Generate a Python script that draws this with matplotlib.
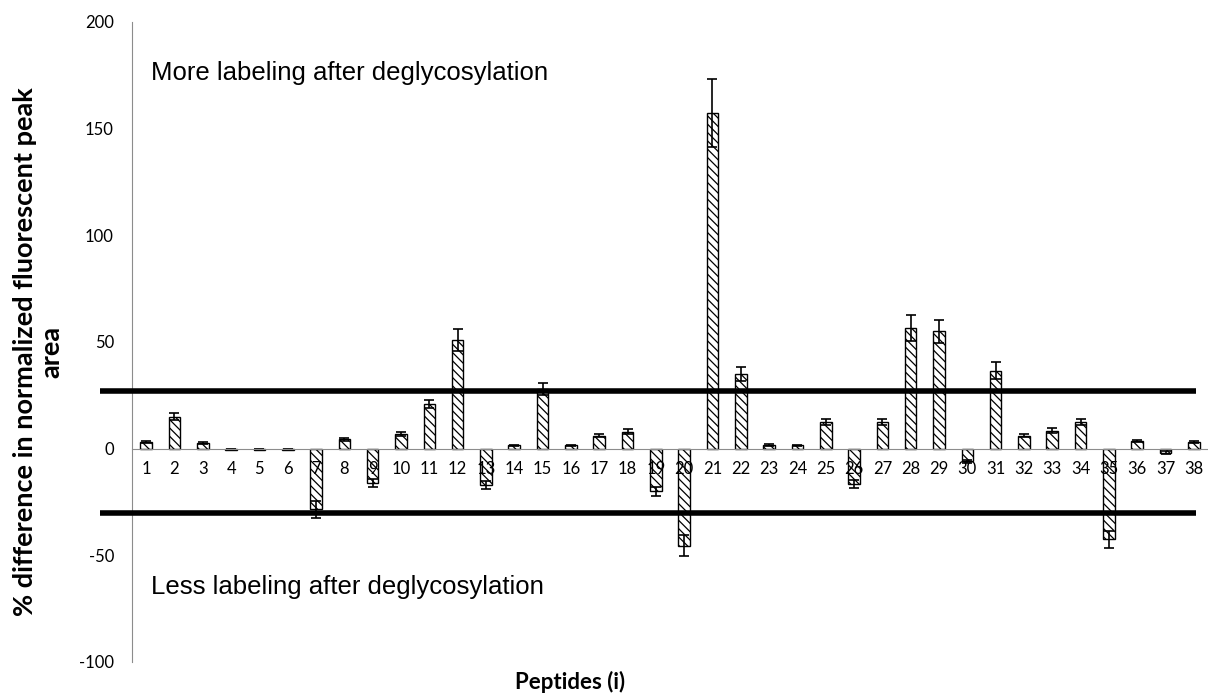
import matplotlib
matplotlib.use("Agg")
import matplotlib.pyplot as plt
import numpy as np

plt.rcParams['hatch.linewidth'] = 0.9
plt.rcParams['axes.unicode_minus'] = False

peptides = [str(i) for i in range(1, 39)]
diff = [3, 15, 2.5, -0.5, -0.5, -0.5, -28.5, 4.5, -16, 7,
        21, 51, -17, 1.5, 28, 1.5, 6, 8, -20, -45.5,
        157.5, 35, 1.7, 1.5, 12.5, -16.5, 12.5, 56.5, 55, -6,
        36.5, 6, 8.5, 12.5, -42.5, 3.5, -2, 3]
err = [0.5, 1.5, 0.5, 0.3, 0.3, 0.3, 4, 0.7, 2, 1,
       2, 5, 2, 0.4, 3, 0.4, 0.7, 1, 2, 5,
       16, 3.5, 0.4, 0.4, 1.5, 2, 1.5, 6, 5.5, 0.8,
       4, 0.7, 1, 1.5, 4, 0.5, 0.7, 0.5]
upper_cut = 27
lower_cut = -30

fig = plt.figure(figsize=(12.08, 6.96), dpi=100)
ax = fig.add_axes([132 / 1208, 1 - 662 / 696, 1 - 132 / 1208, (662 - 22) / 696])

x = np.arange(1, len(diff) + 1)
ax.bar(x, diff, width=0.41, color='white', edgecolor='black', linewidth=1.0,
       hatch='\\\\\\\\', zorder=1)
ax.errorbar(x, diff, yerr=err, fmt='none', ecolor='black', elinewidth=1.2,
            capsize=3.6, capthick=1.2, zorder=1.2)

# threshold lines
for yv in (upper_cut, lower_cut):
    ax.plot([-0.63, 38.06], [yv, yv], color='black', linewidth=4,
            solid_capstyle='butt', clip_on=False, zorder=4)

ax.set_xlim(0.5, 38.5)
ax.set_ylim(-100, 200)
ax.set_yticks([-100, -50, 0, 50, 100, 150, 200])
ax.set_xticks(x)
ax.set_xticklabels(peptides)
ax.set_axisbelow(False)

for s in ('top', 'right'):
    ax.spines[s].set_visible(False)
ax.spines['bottom'].set_position(('data', 0))
ax.spines['bottom'].set_color('#8c8c8c')
ax.spines['left'].set_color('#8c8c8c')
ax.tick_params(axis='x', length=0, pad=9, labelsize=12)
ax.tick_params(axis='y', length=0, pad=13, labelsize=12)
for lab in ax.get_xticklabels() + ax.get_yticklabels():
    lab.set_family('Lato')

ax.text(1.17, 176, 'More labeling after deglycosylation', fontsize=18.5,
        family='Liberation Sans', va='center', ha='left')
ax.text(1.17, -65, 'Less labeling after deglycosylation', fontsize=18.5,
        family='Liberation Sans', va='center', ha='left')

fig.text(38 / 1208, 1 - 352 / 696, '% difference in normalized fluorescent peak\narea',
         rotation=90, ha='center', va='center', fontsize=19.5, fontweight='bold',
         family='Lato', multialignment='center', linespacing=1.1)
fig.text(570 / 1208, 1 - 682 / 696, 'Peptides (i)', ha='center', va='center',
         fontsize=16, fontweight='bold', family='Lato')

fig.savefig('out.png', dpi=100)
